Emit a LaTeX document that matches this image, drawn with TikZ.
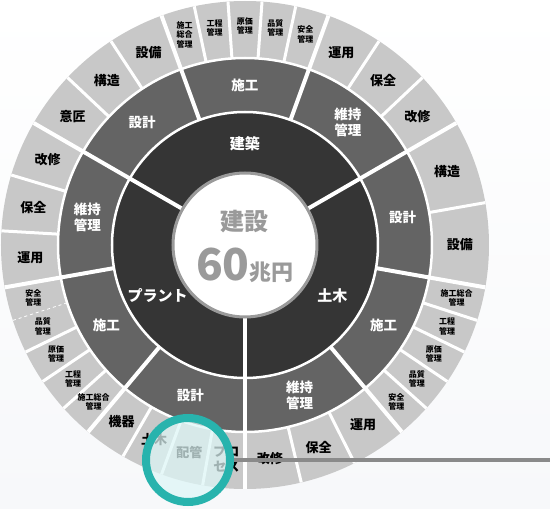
\documentclass[tikz,border=0pt]{standalone}
\usepackage{fontspec}
\setmainfont{Noto Sans CJK JP}
\definecolor{ringdark}{HTML}{353535}
\definecolor{ringmid}{HTML}{646464}
\definecolor{ringlight}{HTML}{C8C8C8}
\definecolor{centergray}{HTML}{9A9A9A}
\definecolor{lensteal}{HTML}{28B3AD}
\definecolor{lensfill}{HTML}{DDF6F6}
\definecolor{bgpaper}{HTML}{F7F8FA}
\definecolor{pointergray}{HTML}{8A8A8A}
\tikzset{
  inner label/.style={text=white, font=\bfseries\fontsize{15}{17}\selectfont, align=center},
  mid label/.style={text=white, font=\bfseries\fontsize{13.5}{16}\selectfont, align=center},
  outer label/.style={text=black, font=\bfseries\fontsize{13}{15}\selectfont, align=center},
  small label/.style={text=black, font=\bfseries\fontsize{8}{9.5}\selectfont, align=center, inner sep=1pt},
  seam/.style={white, line width=3pt},
  mainseam/.style={white, line width=4pt},
  lens/.style={circle, draw=lensteal, line width=8pt, fill=lensfill, fill opacity=0.72, minimum size=84pt, inner sep=0pt},
  pointer/.style={pointergray, line width=4.5pt}
}
\begin{document}
\begin{tikzpicture}[x=1pt,y=1pt]
      \useasboundingbox (-245,-264) rectangle (305,245);
      \shade[top color=white, bottom color=bgpaper] (-245,-264) rectangle (305,245);
      % rings
      \fill[ringlight] (0,0) circle (244);
      \fill[ringmid] (0,0) circle (187);
      \fill[ringdark] (0,0) circle (133);
      \draw[white, line width=2.5pt] (0,0) circle (187);
      \draw[white, line width=2.5pt] (0,0) circle (133);
      % outer ring seams
      \begin{scope}[seam]
        \draw (123.33:187) -- (123.33:244);
        \draw (136.67:187) -- (136.67:244);
        \draw (78:187) -- (78:244);
        \draw (86:187) -- (86:244);
        \draw (94:187) -- (94:244);
        \draw (102:187) -- (102:244);
        \draw (43.33:187) -- (43.33:244);
        \draw (56.67:187) -- (56.67:244);
        \draw (10:187) -- (10:244);
        \draw (-18:187) -- (-18:244);
        \draw (-26:187) -- (-26:244);
        \draw (-34:187) -- (-34:244);
        \draw (-42:187) -- (-42:244);
        \draw (-63.33:187) -- (-63.33:244);
        \draw (-76.67:187) -- (-76.67:244);
        \draw (163.33:187) -- (163.33:244);
        \draw (176.67:187) -- (176.67:244);
        \draw[line width=0.8pt, dashed] (198:187) -- (198:244);
        \draw (206:187) -- (206:244);
        \draw (214:187) -- (214:244);
        \draw (222:187) -- (222:244);
        \draw (240:187) -- (240:244);
        \draw (250:187) -- (250:244);
        \draw (260:187) -- (260:244);
      \end{scope}
      % middle ring seams
      \begin{scope}[mainseam]
        \draw (70:133) -- (70:244);
        \draw (110:133) -- (110:244);
        \draw (-10:133) -- (-10:244);
        \draw (-50:133) -- (-50:244);
        \draw (190:133) -- (190:244);
        \draw (230:133) -- (230:244);
        \draw (30:70) -- (30:244);
        \draw (150:70) -- (150:244);
        \draw (270:70) -- (270:244);
      \end{scope}
      % centre
      \fill[white] (0,0) circle (72);
      \draw[centergray, line width=3pt] (0,0) circle (72);
      \node[text=centergray, font=\bfseries\fontsize{24}{24}\selectfont] (total) at (0,23) {建設};
      \node[text=centergray, font=\bfseries] (amount) at (0,-20)
        {\fontsize{44}{44}\selectfont 60\fontsize{22}{22}\selectfont 兆円};
      % inner ring
      \path
        (90:101) node[inner label] (kenchiku){建築}
        (-30:101) node[inner label] (doboku){土木}
        (210:101) node[inner label] (plant){プラント};
      % middle ring
      \path
        (130:160) node[mid label] (k-sekkei){設計}
        (90:160) node[mid label] (k-sekou){施工}
        (50:160) node[mid label] (k-iji){維持\\管理}
        (10:160) node[mid label] (d-sekkei){設計}
        (-30:160) node[mid label] (d-sekou){施工}
        (-70:160) node[mid label] (d-iji){維持\\管理}
        (170:160) node[mid label] (p-iji){維持\\管理}
        (210:160) node[mid label] (p-sekou){施工}
        (250:160) node[mid label] (p-sekkei){設計};
      % outer ring, kenchiku
      \path
        (143.33:215) node[outer label] (k-isho){意匠}
        (130:215) node[outer label] (k-kozo){構造}
        (116.67:215) node[outer label] (k-setsubi){設備}
        (106:219) node[small label] (k-sogo){施工\\総合\\管理}
        (98:219) node[small label] (k-kotei){工程\\管理}
        (90:219) node[small label] (k-genka){原価\\管理}
        (82:219) node[small label] (k-hinshitsu){品質\\管理}
        (74:219) node[small label] (k-anzen){安全\\管理}
        (63.33:215) node[outer label] (k-unyo){運用}
        (50:215) node[outer label] (k-hozen){保全}
        (36.67:215) node[outer label] (k-kaishu){改修};
      % outer ring, doboku
      \path
        (20:215) node[outer label] (d-kozo){構造}
        (0:215) node[outer label] (d-setsubi){設備}
        (-14:218) node[small label] (d-sogo){施工総合\\管理}
        (-22:218) node[small label] (d-kotei){工程\\管理}
        (-30:218) node[small label] (d-genka){原価\\管理}
        (-38:218) node[small label] (d-hinshitsu){品質\\管理}
        (-46:218) node[small label] (d-anzen){安全\\管理}
        (-56.67:215) node[outer label] (d-unyo){運用}
        (-70:215) node[outer label] (d-hozen){保全}
        (-83.33:215) node[outer label] (d-kaishu){改修};
      % outer ring, plant
      \path
        (156.67:215) node[outer label] (p-kaishu){改修}
        (170:215) node[outer label] (p-hozen){保全}
        (183.33:215) node[outer label] (p-unyo){運用}
        (194:218) node[small label] (p-anzen){安全\\管理}
        (202:218) node[small label] (p-hinshitsu){品質\\管理}
        (210:218) node[small label] (p-genka){原価\\管理}
        (218:218) node[small label] (p-kotei){工程\\管理}
        (226:218) node[small label] (p-sogo){施工総合\\管理}
        (235:215) node[outer label] (p-kiki){機器}
        (245:215) node[outer label] (p-doboku){土木}
        (255:215) node[outer label] (p-haikan){配管}
        (265:215) node[outer label] (p-process){プロ\\セス};
      % magnifier
      \coordinate (tip) at (305,-217);
      \node[lens] (lens) at (-57,-215) {};
      \draw[pointer] (lens.east) -- (lens.east -| tip);
\end{tikzpicture}
\end{document}
